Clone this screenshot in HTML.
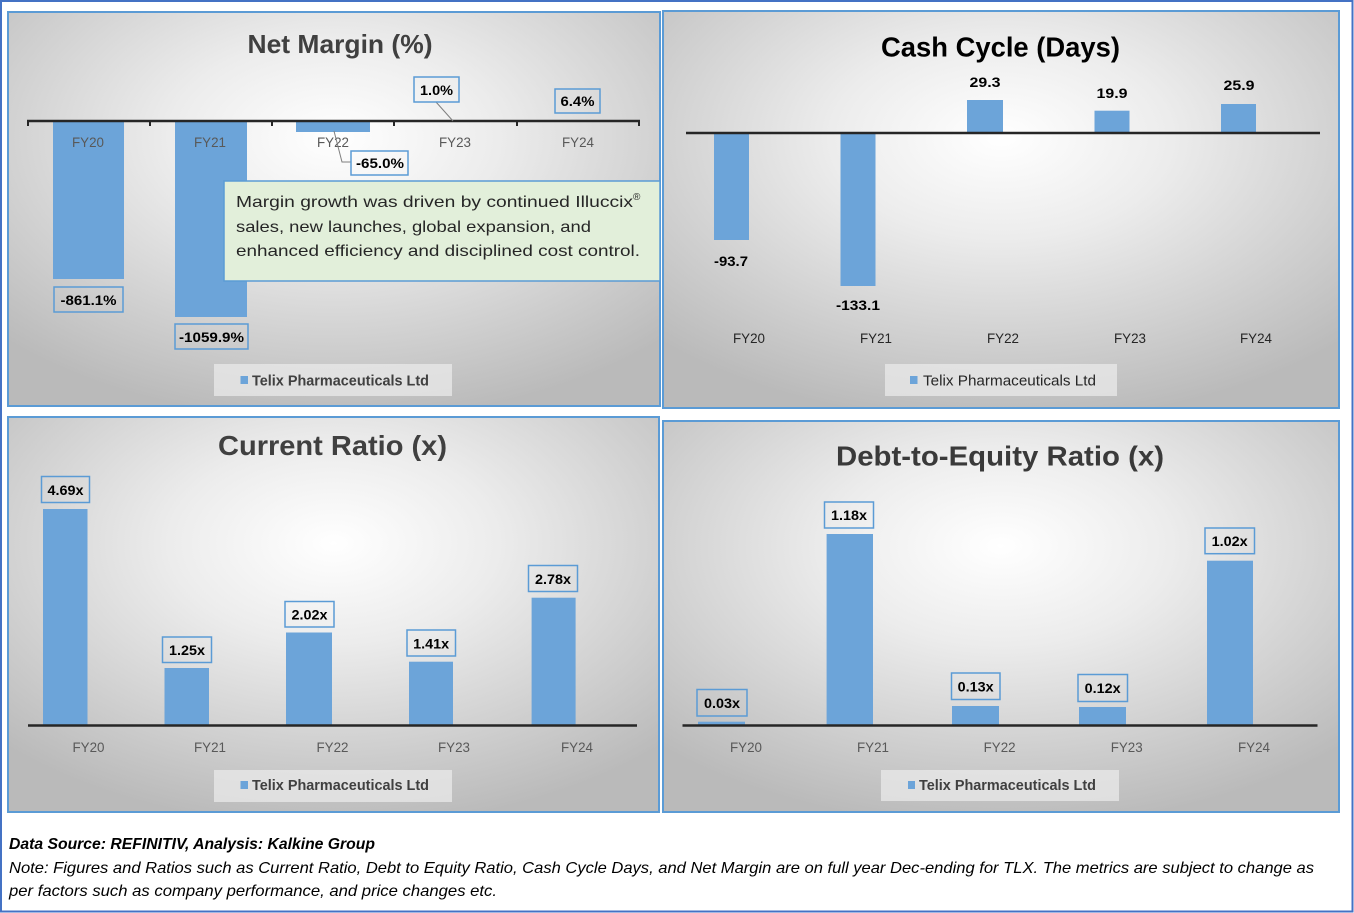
<!DOCTYPE html>
<html>
<head>
<meta charset="utf-8">
<style>
html,body{margin:0;padding:0;background:#ffffff;}
svg{display:block;}
text{font-family:"Liberation Sans",sans-serif;}
</style>
</head>
<body>
<svg width="1354" height="913" viewBox="0 0 1354 913" xmlns="http://www.w3.org/2000/svg">
<defs>
<radialGradient id="bg" cx="0.5" cy="0.32" r="0.72" gradientUnits="objectBoundingBox">
<stop offset="0" stop-color="#ffffff"/>
<stop offset="0.35" stop-color="#ececec"/>
<stop offset="1" stop-color="#bababa"/>
</radialGradient>
</defs>
<rect x="0" y="0" width="1354" height="913" fill="#ffffff"/>
<rect x="1" y="1" width="1351.5" height="910.5" fill="none" stroke="#4472c4" stroke-width="2"/>

<!-- Panel 1: Net Margin -->
<rect x="8" y="12" width="652" height="394" fill="url(#bg)" stroke="#5b9bd5" stroke-width="2"/>
<text x="340" y="53" text-anchor="middle" font-size="26" font-weight="bold" fill="#404040" textLength="185" lengthAdjust="spacingAndGlyphs">Net Margin (%)</text>
<rect x="53" y="121" width="71" height="158" fill="#6ca4d9"/>
<rect x="175" y="121" width="72" height="196" fill="#6ca4d9"/>
<rect x="296" y="121" width="74" height="11" fill="#6ca4d9"/>
<line x1="27" y1="121" x2="640" y2="121" stroke="#262626" stroke-width="2.5"/>
<g stroke="#262626" stroke-width="2">
<line x1="28" y1="120" x2="28" y2="126"/><line x1="150" y1="120" x2="150" y2="126"/><line x1="272" y1="120" x2="272" y2="126"/><line x1="394" y1="120" x2="394" y2="126"/><line x1="517" y1="120" x2="517" y2="126"/><line x1="639" y1="120" x2="639" y2="126"/>
</g>
<g font-size="14" fill="#595959" text-anchor="middle">
<text x="88" y="147" textLength="32" lengthAdjust="spacingAndGlyphs">FY20</text>
<text x="210" y="147" textLength="32" lengthAdjust="spacingAndGlyphs">FY21</text>
<text x="333" y="147" textLength="32" lengthAdjust="spacingAndGlyphs">FY22</text>
<text x="455" y="147" textLength="32" lengthAdjust="spacingAndGlyphs">FY23</text>
<text x="578" y="147" textLength="32" lengthAdjust="spacingAndGlyphs">FY24</text>
</g>
<polyline points="334,131 342,162 351,162" fill="none" stroke="#7f7f7f" stroke-width="1"/>
<polyline points="436,102 453,121" fill="none" stroke="#7f7f7f" stroke-width="1"/>
<g fill="none" stroke="#5b9bd5" stroke-width="1.5">
<rect x="54" y="287" width="69" height="25"/>
<rect x="175" y="324" width="73" height="25"/>
<rect x="351" y="151" width="57" height="24"/>
<rect x="414" y="77" width="45" height="25"/>
<rect x="555" y="89" width="45" height="24"/>
</g>
<g font-size="14" font-weight="bold" fill="#000" text-anchor="middle">
<text x="88.5" y="305" textLength="56" lengthAdjust="spacingAndGlyphs">-861.1%</text>
<text x="211.5" y="342" textLength="65" lengthAdjust="spacingAndGlyphs">-1059.9%</text>
<text x="380" y="168" textLength="48" lengthAdjust="spacingAndGlyphs">-65.0%</text>
<text x="436.5" y="95" textLength="33" lengthAdjust="spacingAndGlyphs">1.0%</text>
<text x="577.5" y="106" textLength="34" lengthAdjust="spacingAndGlyphs">6.4%</text>
</g>
<rect x="224" y="181" width="436" height="100" fill="#e2efda" stroke="#5b9bd5" stroke-width="1.5"/>
<g font-size="16" fill="#262626">
<text x="236" y="207" textLength="397" lengthAdjust="spacingAndGlyphs">Margin growth was driven by continued Illuccix</text>
<text x="633" y="200" font-size="10">®</text>
<text x="236" y="232" textLength="355" lengthAdjust="spacingAndGlyphs">sales, new launches, global expansion, and</text>
<text x="236" y="256" textLength="404" lengthAdjust="spacingAndGlyphs">enhanced efficiency and disciplined cost control.</text>
</g>
<rect x="214" y="364" width="238" height="32" fill="#e9e9e9" fill-opacity="0.75"/>
<rect x="240.5" y="376" width="7.5" height="8" fill="#6ca4d9"/>
<text x="252" y="385.5" font-size="15" font-weight="bold" fill="#404040" textLength="177" lengthAdjust="spacingAndGlyphs">Telix Pharmaceuticals Ltd</text>

<!-- Panel 2: Cash Cycle -->
<rect x="663" y="11" width="676" height="397" fill="url(#bg)" stroke="#5b9bd5" stroke-width="2"/>
<text x="1000.5" y="56.5" text-anchor="middle" font-size="28" font-weight="bold" fill="#000" textLength="239" lengthAdjust="spacingAndGlyphs">Cash Cycle (Days)</text>
<rect x="714" y="133" width="35" height="107" fill="#6ca4d9"/>
<rect x="840.5" y="133" width="35" height="153" fill="#6ca4d9"/>
<rect x="967" y="100" width="36" height="33" fill="#6ca4d9"/>
<rect x="1094.5" y="110.7" width="35" height="22.3" fill="#6ca4d9"/>
<rect x="1221" y="104" width="35" height="29" fill="#6ca4d9"/>
<line x1="686" y1="133" x2="1320" y2="133" stroke="#262626" stroke-width="2.5"/>
<g font-size="14" font-weight="bold" fill="#000" text-anchor="middle">
<text x="731" y="266" textLength="34" lengthAdjust="spacingAndGlyphs">-93.7</text>
<text x="858" y="310" textLength="44" lengthAdjust="spacingAndGlyphs">-133.1</text>
<text x="985" y="87" textLength="31" lengthAdjust="spacingAndGlyphs">29.3</text>
<text x="1112" y="98" textLength="31" lengthAdjust="spacingAndGlyphs">19.9</text>
<text x="1239" y="90" textLength="31" lengthAdjust="spacingAndGlyphs">25.9</text>
</g>
<g font-size="14" fill="#262626" text-anchor="middle">
<text x="749" y="343" textLength="32" lengthAdjust="spacingAndGlyphs">FY20</text>
<text x="876" y="343" textLength="32" lengthAdjust="spacingAndGlyphs">FY21</text>
<text x="1003" y="343" textLength="32" lengthAdjust="spacingAndGlyphs">FY22</text>
<text x="1130" y="343" textLength="32" lengthAdjust="spacingAndGlyphs">FY23</text>
<text x="1256" y="343" textLength="32" lengthAdjust="spacingAndGlyphs">FY24</text>
</g>
<rect x="885" y="364" width="232" height="32" fill="#e9e9e9" fill-opacity="0.75"/>
<rect x="910" y="376" width="7.5" height="8" fill="#6ca4d9"/>
<text x="923" y="385.5" font-size="15" fill="#262626" textLength="173" lengthAdjust="spacingAndGlyphs">Telix Pharmaceuticals Ltd</text>

<!-- Panel 3: Current Ratio -->
<rect x="8" y="417" width="651" height="395" fill="url(#bg)" stroke="#5b9bd5" stroke-width="2"/>
<text x="332.5" y="455" text-anchor="middle" font-size="28" font-weight="bold" fill="#404040" textLength="229" lengthAdjust="spacingAndGlyphs">Current Ratio (x)</text>
<rect x="43" y="509" width="44.5" height="216" fill="#6ca4d9"/>
<rect x="164.5" y="668" width="44.5" height="57" fill="#6ca4d9"/>
<rect x="286" y="632.5" width="46" height="92.5" fill="#6ca4d9"/>
<rect x="409" y="661.7" width="44" height="63.3" fill="#6ca4d9"/>
<rect x="531.6" y="597.7" width="44" height="127.3" fill="#6ca4d9"/>
<line x1="28" y1="725.5" x2="637" y2="725.5" stroke="#262626" stroke-width="2.5"/>
<g fill="none" stroke="#5b9bd5" stroke-width="1.5">
<rect x="41.5" y="476.5" width="48" height="26"/>
<rect x="162.5" y="637" width="49" height="25.5"/>
<rect x="285" y="601.5" width="49" height="25.5"/>
<rect x="407" y="630" width="48.5" height="26"/>
<rect x="528.5" y="565.5" width="49" height="26"/>
</g>
<g font-size="14" font-weight="bold" fill="#000" text-anchor="middle">
<text x="65.5" y="495" textLength="36" lengthAdjust="spacingAndGlyphs">4.69x</text>
<text x="187" y="655" textLength="36" lengthAdjust="spacingAndGlyphs">1.25x</text>
<text x="309.5" y="619.5" textLength="36" lengthAdjust="spacingAndGlyphs">2.02x</text>
<text x="431.2" y="648.5" textLength="36" lengthAdjust="spacingAndGlyphs">1.41x</text>
<text x="553" y="584" textLength="36" lengthAdjust="spacingAndGlyphs">2.78x</text>
</g>
<g font-size="14" fill="#595959" text-anchor="middle">
<text x="88.5" y="752" textLength="32" lengthAdjust="spacingAndGlyphs">FY20</text>
<text x="210" y="752" textLength="32" lengthAdjust="spacingAndGlyphs">FY21</text>
<text x="332.5" y="752" textLength="32" lengthAdjust="spacingAndGlyphs">FY22</text>
<text x="454" y="752" textLength="32" lengthAdjust="spacingAndGlyphs">FY23</text>
<text x="577" y="752" textLength="32" lengthAdjust="spacingAndGlyphs">FY24</text>
</g>
<rect x="214" y="770" width="238" height="32" fill="#e9e9e9" fill-opacity="0.75"/>
<rect x="240.5" y="781" width="7.5" height="8" fill="#6ca4d9"/>
<text x="252" y="790" font-size="15" font-weight="bold" fill="#404040" textLength="177" lengthAdjust="spacingAndGlyphs">Telix Pharmaceuticals Ltd</text>

<!-- Panel 4: Debt-to-Equity -->
<rect x="663" y="421" width="676" height="391" fill="url(#bg)" stroke="#5b9bd5" stroke-width="2"/>
<text x="1000" y="465.5" text-anchor="middle" font-size="28" font-weight="bold" fill="#3a3a3a" textLength="328" lengthAdjust="spacingAndGlyphs">Debt-to-Equity Ratio (x)</text>
<rect x="698" y="721.7" width="47" height="3.3" fill="#6ca4d9"/>
<rect x="826.6" y="534" width="46.4" height="191" fill="#6ca4d9"/>
<rect x="952" y="706" width="47" height="19" fill="#6ca4d9"/>
<rect x="1079" y="707" width="47" height="18" fill="#6ca4d9"/>
<rect x="1207" y="560.7" width="46" height="164.3" fill="#6ca4d9"/>
<line x1="682.5" y1="725.5" x2="1317.5" y2="725.5" stroke="#262626" stroke-width="2.5"/>
<g fill="none" stroke="#5b9bd5" stroke-width="1.5">
<rect x="697" y="689.5" width="50" height="26.5"/>
<rect x="824.5" y="502" width="49" height="26"/>
<rect x="951.5" y="673" width="48.5" height="26.5"/>
<rect x="1078" y="674.5" width="49.5" height="27"/>
<rect x="1205" y="528" width="49.5" height="25.7"/>
</g>
<g font-size="14" font-weight="bold" fill="#000" text-anchor="middle">
<text x="722" y="708" textLength="36" lengthAdjust="spacingAndGlyphs">0.03x</text>
<text x="849" y="520" textLength="36" lengthAdjust="spacingAndGlyphs">1.18x</text>
<text x="975.7" y="691.5" textLength="36" lengthAdjust="spacingAndGlyphs">0.13x</text>
<text x="1102.7" y="693" textLength="36" lengthAdjust="spacingAndGlyphs">0.12x</text>
<text x="1229.7" y="546" textLength="36" lengthAdjust="spacingAndGlyphs">1.02x</text>
</g>
<g font-size="14" fill="#595959" text-anchor="middle">
<text x="746" y="752" textLength="32" lengthAdjust="spacingAndGlyphs">FY20</text>
<text x="873" y="752" textLength="32" lengthAdjust="spacingAndGlyphs">FY21</text>
<text x="999.6" y="752" textLength="32" lengthAdjust="spacingAndGlyphs">FY22</text>
<text x="1126.7" y="752" textLength="32" lengthAdjust="spacingAndGlyphs">FY23</text>
<text x="1254" y="752" textLength="32" lengthAdjust="spacingAndGlyphs">FY24</text>
</g>
<rect x="881" y="770" width="238" height="31" fill="#e9e9e9" fill-opacity="0.75"/>
<rect x="908" y="781" width="7" height="8" fill="#6ca4d9"/>
<text x="919" y="790" font-size="15" font-weight="bold" fill="#404040" textLength="177" lengthAdjust="spacingAndGlyphs">Telix Pharmaceuticals Ltd</text>

<!-- Footer -->
<text x="9" y="849" font-size="16" font-weight="bold" font-style="italic" fill="#000" textLength="366" lengthAdjust="spacingAndGlyphs">Data Source: REFINITIV, Analysis: Kalkine Group</text>
<text x="9" y="873" font-size="16" font-style="italic" fill="#000" textLength="1305" lengthAdjust="spacingAndGlyphs">Note: Figures and Ratios such as Current Ratio, Debt to Equity Ratio, Cash Cycle Days, and Net Margin are on full year Dec-ending for TLX. The metrics are subject to change as</text>
<text x="9" y="896" font-size="16" font-style="italic" fill="#000" textLength="488" lengthAdjust="spacingAndGlyphs">per factors such as company performance, and price changes etc.</text>
</svg>
</body>
</html>
